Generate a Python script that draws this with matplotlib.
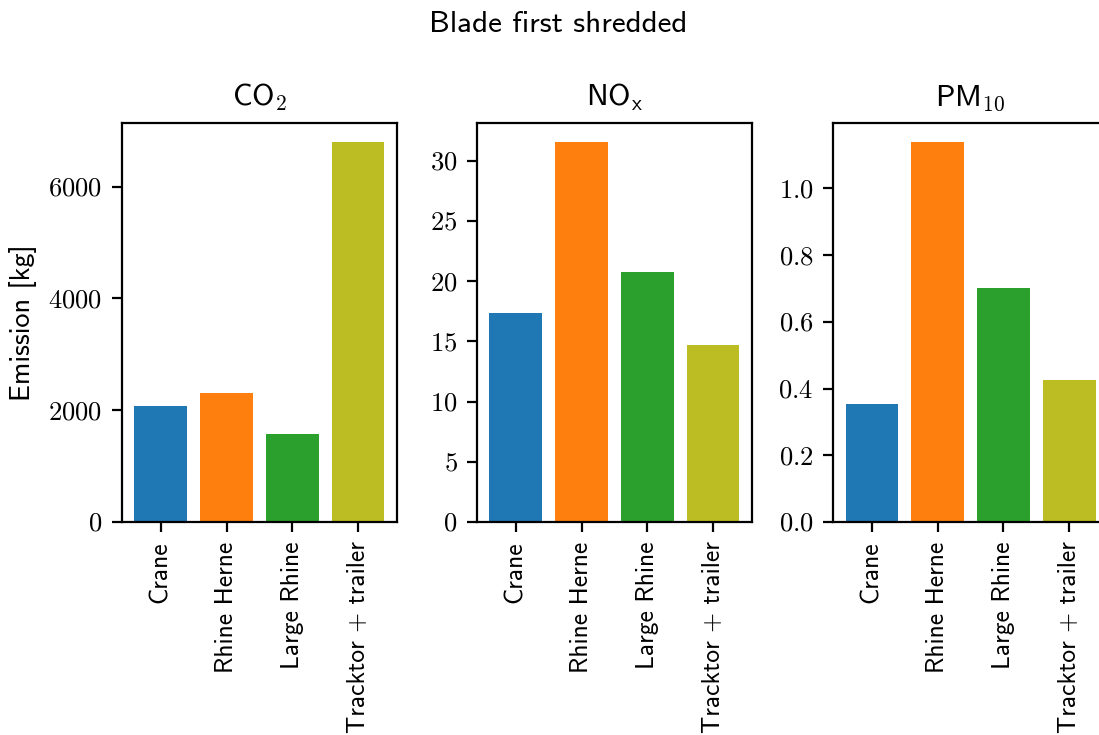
import matplotlib
matplotlib.use('Agg')
import matplotlib.pyplot as plt
from matplotlib.ticker import FuncFormatter

plt.rcParams['font.family'] = 'cmss10'
plt.rcParams['mathtext.fontset'] = 'cm'
plt.rcParams['axes.formatter.use_mathtext'] = True
plt.rcParams['font.size'] = 10

vehicles = ['Crane', 'Rhine Herne', 'Large Rhine', 'Tracktor + trailer']
colors = ['tab:blue', 'tab:orange', 'tab:green', 'tab:olive']

co2 = [2080, 2310, 1570, 6800]
nox = [17.35, 31.55, 20.75, 14.66]
pm10 = [0.354, 1.139, 0.702, 0.426]

titles = [r'CO$_\mathsf{2}$', r'NO$_\mathsf{x}$', r'PM$_{10}$']
series = [co2, nox, pm10]
tick_fmt = ['%d', '%d', '%.1f']

fig = plt.figure(figsize=(5.495, 3.675), dpi=200)
lefts = [0.111, 0.434, 0.758]
for i, (left, vals, title) in enumerate(zip(lefts, series, titles)):
    ax = fig.add_axes([left, 0.2898, 0.2502, 0.5429])
    ax.bar(range(len(vehicles)), vals, color=colors)
    ax.set_xticks(range(len(vehicles)))
    ax.set_xticklabels(vehicles, rotation=90, fontsize=9.2)
    fmt = tick_fmt[i]
    ax.yaxis.set_major_formatter(FuncFormatter(lambda v, p, f=fmt: '$' + f % v + '$'))
    ax.tick_params(axis='y', labelsize=9.6)
    ax.set_title(title, fontsize=11)
    if i == 0:
        ax.set_ylabel('Emission [kg]', fontsize=10.2)

fig.suptitle('Blade first shredded', x=0.508, y=0.985, fontsize=11.2)
plt.savefig('out.png', dpi=200)
